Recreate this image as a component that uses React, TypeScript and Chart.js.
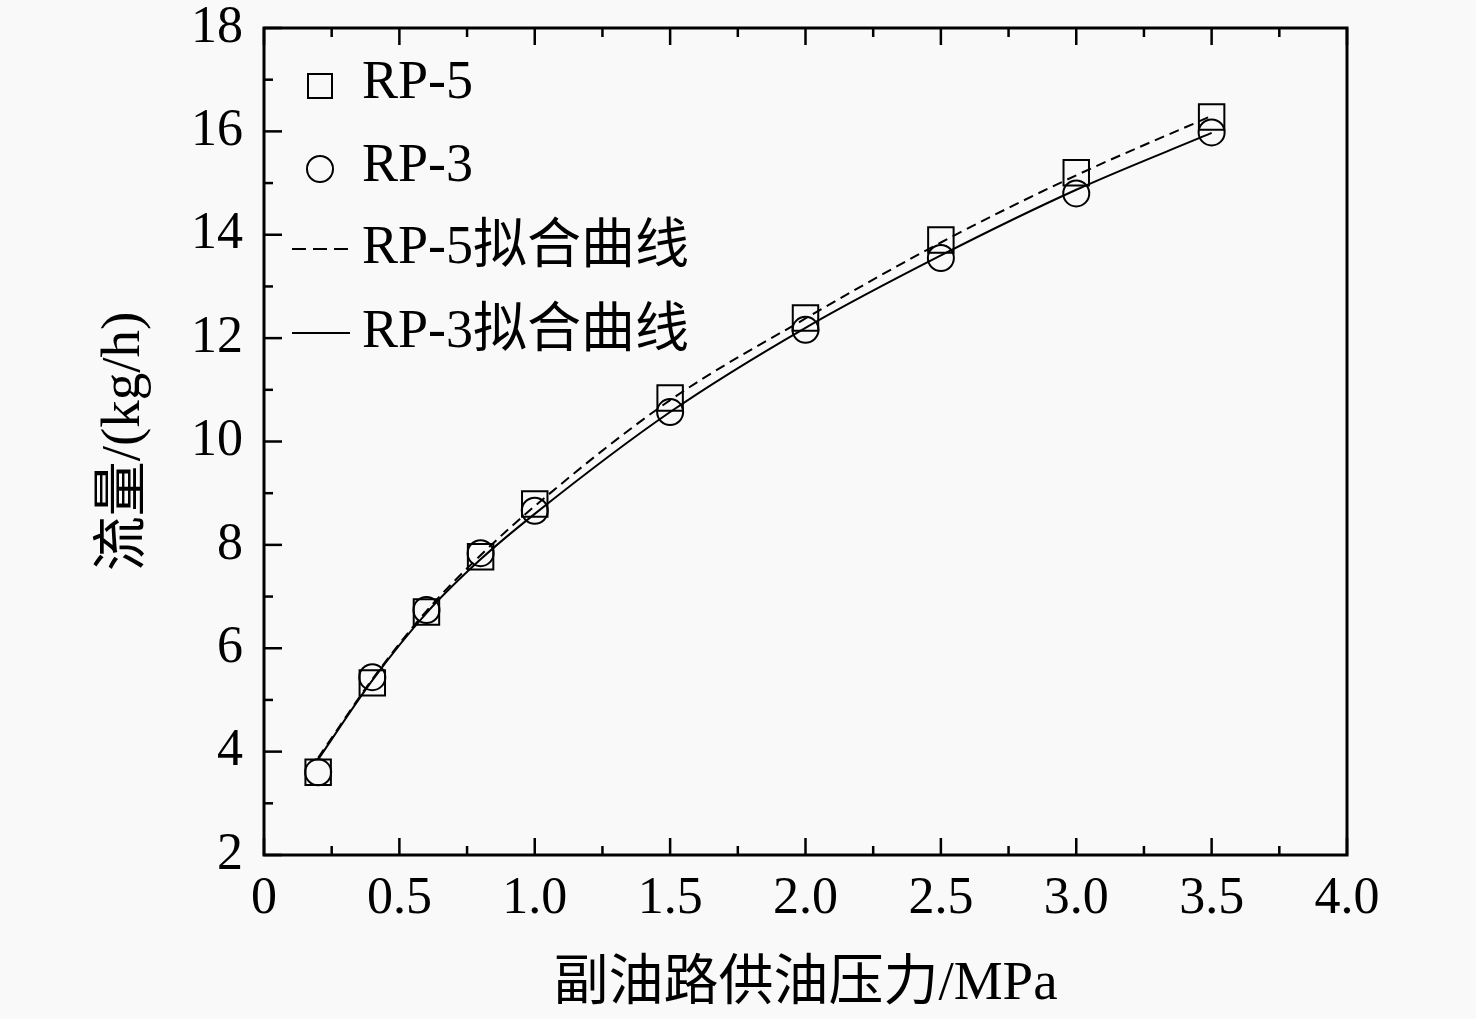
import { useEffect, useRef } from 'react'
import { Chart, registerables } from 'chart.js'

Chart.register(...registerables)

// measured pressure (MPa) and flow (kg/h)
const pressure = [0.2, 0.4, 0.6, 0.8, 1.0, 1.5, 2.0, 2.5, 3.0, 3.5]
const rp5Flow = [3.6, 5.33, 6.7, 7.77, 8.79, 10.84, 12.39, 13.9, 15.2, 16.28]
const rp3Flow = [3.6, 5.44, 6.74, 7.84, 8.66, 10.57, 12.16, 13.55, 14.8, 15.98]

// fitted curves at the same pressures
const rp5Fit = [3.88, 5.4, 6.72, 7.8, 8.75, 10.8, 12.38, 13.85, 15.15, 16.3]
const rp3Fit = [3.85, 5.38, 6.68, 7.72, 8.6, 10.57, 12.2, 13.6, 14.87, 15.97]

const xTickLabels = ['0', '0.5', '1.0', '1.5', '2.0', '2.5', '3.0', '3.5', '4.0']
const legendLabels = ['RP-5', 'RP-3', 'RP-5拟合曲线', 'RP-3拟合曲线']
const xTitle = '副油路供油压力/MPa'
const yTitle = '流量/(kg/h)'

const FONT = '"Liberation Serif", "Noto Sans CJK SC", serif'

const toPoints = (ys: number[]) => pressure.map((x, i) => ({ x, y: ys[i] }))

const framePlugin = {
  id: 'frame',
  beforeDraw(chart: Chart) {
    const { ctx, width, height } = chart
    ctx.save()
    ctx.fillStyle = '#f9f9f9'
    ctx.fillRect(0, 0, width, height)
    ctx.restore()
  },
  afterDraw(chart: Chart) {
    const { ctx, chartArea: a, scales } = chart
    ctx.save()
    ctx.strokeStyle = '#000'
    ctx.lineWidth = 3
    ctx.strokeRect(a.left, a.top, a.right - a.left, a.bottom - a.top)

    // inward ticks, bottom + top
    ctx.lineWidth = 2.5
    const xs = scales.x
    const xv = xs.ticks.map((t) => t.value)
    const tickX = (v: number, len: number) => {
      const px = xs.getPixelForValue(v)
      ctx.beginPath()
      ctx.moveTo(px, a.bottom)
      ctx.lineTo(px, a.bottom - len)
      ctx.moveTo(px, a.top)
      ctx.lineTo(px, a.top + len)
      ctx.stroke()
    }
    xv.forEach((v, i) => {
      tickX(v, 17)
      if (i < xv.length - 1) tickX((v + xv[i + 1]) / 2, 9)
    })

    // inward ticks, left only
    const ys = scales.y
    const yv = ys.ticks.map((t) => t.value)
    const tickY = (v: number, len: number) => {
      const py = ys.getPixelForValue(v)
      ctx.beginPath()
      ctx.moveTo(a.left, py)
      ctx.lineTo(a.left + len, py)
      ctx.stroke()
    }
    yv.forEach((v, i) => {
      tickY(v, 18)
      if (i < yv.length - 1) tickY((v + yv[i + 1]) / 2, 9)
    })

    // legend in the upper left corner
    const mx = a.left + 56
    const tx = a.left + 98
    const rows = [a.top + 56, a.top + 139, a.top + 221, a.top + 305]
    ctx.lineWidth = 2
    ctx.strokeRect(mx - 12, rows[0] + 2 - 12, 24, 24)
    ctx.beginPath()
    ctx.arc(mx, rows[1] + 2, 13, 0, Math.PI * 2)
    ctx.stroke()
    ctx.lineWidth = 2
    ctx.setLineDash([14, 7])
    ctx.beginPath()
    ctx.moveTo(a.left + 28, rows[2])
    ctx.lineTo(a.left + 86, rows[2])
    ctx.stroke()
    ctx.setLineDash([])
    ctx.beginPath()
    ctx.moveTo(a.left + 28, rows[3])
    ctx.lineTo(a.left + 86, rows[3])
    ctx.stroke()

    ctx.fillStyle = '#000'
    ctx.font = `54px ${FONT}`
    ctx.textBaseline = 'middle'
    ctx.textAlign = 'left'
    legendLabels.forEach((label, i) => ctx.fillText(label, tx, rows[i]))
    ctx.restore()
  },
}

export default function App() {
  const chartRef = useRef<HTMLCanvasElement>(null)
  const chartInstanceRef = useRef<Chart | null>(null)

  useEffect(() => {
    if (!chartRef.current) return
    const ctx = chartRef.current.getContext('2d')
    if (!ctx) return

    if (chartInstanceRef.current) {
      chartInstanceRef.current.destroy()
    }

    chartInstanceRef.current = new Chart(ctx, {
      type: 'scatter',
      data: {
        datasets: [
          {
            label: legendLabels[0],
            data: toPoints(rp5Flow),
            showLine: false,
            pointStyle: 'rect',
            pointRadius: 18,
            pointBorderWidth: 2,
            pointBorderColor: '#000',
            pointBackgroundColor: 'rgba(0,0,0,0)',
          },
          {
            label: legendLabels[1],
            data: toPoints(rp3Flow),
            showLine: false,
            pointStyle: 'circle',
            pointRadius: 13,
            pointBorderWidth: 2,
            pointBorderColor: '#000',
            pointBackgroundColor: 'rgba(0,0,0,0)',
          },
          {
            label: legendLabels[2],
            data: toPoints(rp5Fit),
            showLine: true,
            pointRadius: 0,
            borderColor: '#000',
            borderWidth: 2,
            borderDash: [10, 6],
            cubicInterpolationMode: 'monotone',
          },
          {
            label: legendLabels[3],
            data: toPoints(rp3Fit),
            showLine: true,
            pointRadius: 0,
            borderColor: '#000',
            borderWidth: 2,
            cubicInterpolationMode: 'monotone',
          },
        ],
      },
      options: {
        responsive: false,
        animation: false,
        devicePixelRatio: 1,
        layout: {
          autoPadding: false,
          padding: { left: 0, top: 28, right: 129, bottom: 0 },
        },
        plugins: {
          legend: { display: false },
          tooltip: { enabled: false },
        },
        scales: {
          x: {
            type: 'linear',
            min: 0,
            max: 4,
            grid: { display: false, drawTicks: false },
            border: { display: false },
            ticks: {
              stepSize: 0.5,
              padding: 18,
              color: '#000',
              font: { family: FONT, size: 52, lineHeight: 1 },
              callback: (_v, i) => xTickLabels[i],
            },
            title: {
              display: true,
              text: xTitle,
              color: '#000',
              font: { family: FONT, size: 55, lineHeight: 1.2 },
              padding: { top: 0, bottom: 1 },
            },
            afterFit: (scale) => {
              scale.height = 164
            },
          },
          y: {
            type: 'linear',
            min: 2,
            max: 18,
            grid: { display: false, drawTicks: false },
            border: { display: false },
            ticks: {
              stepSize: 2,
              padding: 21,
              color: '#000',
              font: { family: FONT, size: 52, lineHeight: 0.2 },
            },
            title: {
              display: true,
              text: yTitle,
              color: '#000',
              font: { family: FONT, size: 55, lineHeight: 1.2 },
              padding: { top: 92, bottom: 0 },
            },
            afterFit: (scale) => {
              scale.width = 264
            },
          },
        },
      },
      plugins: [framePlugin],
    })

    return () => {
      chartInstanceRef.current?.destroy()
      chartInstanceRef.current = null
    }
  }, [])

  return (
    <div style={{ position: 'absolute', left: 0, top: 0, width: 1476, height: 1019 }}>
      <canvas ref={chartRef} width={1476} height={1019}></canvas>
    </div>
  )
}
